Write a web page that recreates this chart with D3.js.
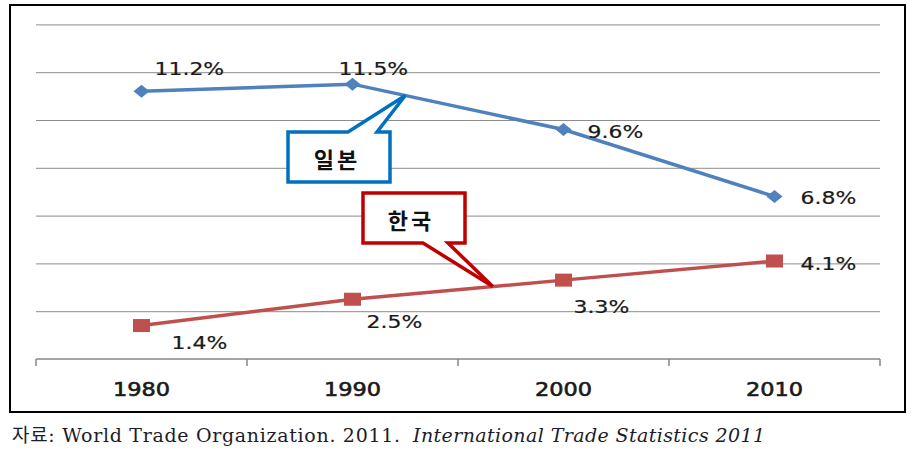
<!DOCTYPE html>
<html>
<head>
<meta charset="utf-8">
<script src="https://cdn.jsdelivr.net/npm/d3@7.9.0/dist/d3.min.js"></script>
<style>
  html, body { margin: 0; padding: 0; background: #fff; }
  svg { display: block; }
</style>
</head>
<body>
<div id="chart"></div>
<script>
// Data
const years = ['1980', '1990', '2000', '2010'];
const japan = [11.2, 11.5, 9.6, 6.8];
const korea = [1.4, 2.5, 3.3, 4.1];
const yTicks = [2, 4, 6, 8, 10, 12, 14];
const japanName = '일본';
const koreaName = '한국';
const sourceText = '자료: World Trade Organization. 2011.';
const sourceItalic = 'International Trade Statistics 2011';

// Label offsets (px) from each point: [dx, dy of baseline]
const japanLabelOff = [[13, -16], [-14, -9], [24, 8], [26, 8]];
const koreaLabelOff = [[30, 23], [14, 29], [10, 33], [26, 9]];

const width = 912, height = 454;
const plot = { left: 36, right: 880, top: 24.4, bottom: 359 };

const svg = d3.select('#chart').append('svg')
  .attr('width', width)
  .attr('height', height);

// Outer frame
svg.append('rect')
  .attr('x', 10).attr('y', 5)
  .attr('width', 895).attr('height', 407)
  .attr('fill', '#fff')
  .attr('stroke', '#000')
  .attr('stroke-width', 2);

const x = d3.scaleBand().domain(years).range([plot.left, plot.right]);
const y = d3.scaleLinear().domain([0, 14]).range([plot.bottom, plot.top]);
const cx = d => x(d) + x.bandwidth() / 2;

// Gridlines
svg.append('g')
  .attr('transform', `translate(${plot.left},0)`)
  .call(d3.axisLeft(y).tickValues(yTicks).tickFormat('').tickSize(-(plot.right - plot.left)))
  .call(g => g.select('.domain').remove())
  .call(g => g.selectAll('.tick line').attr('stroke', '#8c8c8c').attr('stroke-width', 1));

// X axis: line, ticks between categories, labels
const xAxis = svg.append('g').attr('transform', `translate(0,${plot.bottom})`);
xAxis.append('line')
  .attr('x1', plot.left).attr('x2', plot.right)
  .attr('stroke', '#868686').attr('stroke-width', 1.5);
xAxis.selectAll('line.tk')
  .data(years.map(d => x(d)).concat([plot.right]))
  .join('line')
  .attr('class', 'tk')
  .attr('x1', d => d).attr('x2', d => d)
  .attr('y1', 0).attr('y2', 7)
  .attr('stroke', '#868686').attr('stroke-width', 1.5);
xAxis.selectAll('text')
  .data(years)
  .join('text')
  .attr('transform', d => `translate(${cx(d)},37) scale(1.18,1)`)
  .attr('text-anchor', 'middle')
  .attr('font-family', 'DejaVu Sans')
  .attr('font-size', 19)
  .attr('fill', '#1a1a1a')
  .attr('stroke', '#1a1a1a')
  .attr('stroke-width', 0.6)
  .text(d => d);

// Lines
const line = d3.line().x((d, i) => cx(years[i])).y(d => y(d));

function series(values, color, marker, offsets) {
  const g = svg.append('g');
  g.append('path')
    .datum(values)
    .attr('d', line)
    .attr('fill', 'none')
    .attr('stroke', color)
    .attr('stroke-width', 3.5);
  if (marker === 'diamond') {
    g.selectAll('path.m')
      .data(values)
      .join('path')
      .attr('class', 'm')
      .attr('d', (d, i) => {
        const px = cx(years[i]), py = y(d);
        return `M${px - 8},${py} L${px},${py - 6.5} L${px + 8},${py} L${px},${py + 6.5} Z`;
      })
      .attr('fill', color);
  } else {
    g.selectAll('rect')
      .data(values)
      .join('rect')
      .attr('x', (d, i) => cx(years[i]) - 8.5)
      .attr('y', d => y(d) - 6.5)
      .attr('width', 17).attr('height', 13)
      .attr('fill', color);
  }
  g.selectAll('text')
    .data(values)
    .join('text')
    .attr('transform', (d, i) =>
      `translate(${cx(years[i]) + offsets[i][0]},${y(d) + offsets[i][1]}) scale(1.22,1)`)
    .attr('font-family', 'DejaVu Sans')
    .attr('font-size', 18)
    .attr('fill', '#1a1a1a')
    .attr('stroke', '#1a1a1a')
    .attr('stroke-width', 0.2)
    .text(d => d.toFixed(1) + '%');
}

series(japan, '#4f81bd', 'diamond', japanLabelOff);
series(korea, '#c0504d', 'square', koreaLabelOff);

// Callouts, tip anchored on the segment between 1990 and 2000
function pointOn(values, t) {
  const x0 = cx(years[1]), x1 = cx(years[2]);
  return [x0 + (x1 - x0) * t, y(values[1] + (values[2] - values[1]) * t)];
}

function callout(box, base, tip, color, label, textX, textY) {
  const [l, t, r, b] = box;
  svg.append('path')
    .attr('d', base.dir === 'top'
      ? `M${l},${t} L${base.a},${t} L${tip[0]},${tip[1]} L${base.b},${t} L${r},${t} L${r},${b} L${l},${b} Z`
      : `M${l},${t} L${r},${t} L${r},${b} L${base.b},${b} L${tip[0]},${tip[1]} L${base.a},${b} L${l},${b} Z`)
    .attr('fill', '#fff')
    .attr('stroke', color)
    .attr('stroke-width', 3.5)
    .attr('stroke-linejoin', 'miter');
  svg.append('text')
    .attr('x', textX).attr('y', textY)
    .attr('text-anchor', 'middle')
    .attr('font-family', 'Noto Sans CJK KR')
    .attr('font-weight', 'bold')
    .attr('font-size', 22)
    .attr('letter-spacing', 3)
    .attr('fill', '#111')
    .text(label);
}

callout([288, 132, 390, 182], { dir: 'top', a: 348, b: 377 }, pointOn(japan, 0.25),
  '#0070c0', japanName, 337, 168);
callout([363, 193, 465, 243], { dir: 'bottom', a: 423, b: 448 }, pointOn(korea, 0.665),
  '#c00000', koreaName, 411, 229);

// Source line
svg.append('text')
  .attr('x', 12).attr('y', 442)
  .attr('font-family', 'DejaVu Serif, Noto Sans CJK KR')
  .attr('font-size', 19)
  .attr('fill', '#1c1c2a')
  .attr('textLength', 388)
  .attr('lengthAdjust', 'spacing')
  .text(sourceText);
svg.append('text')
  .attr('x', 413).attr('y', 442)
  .attr('font-family', 'DejaVu Serif')
  .attr('font-style', 'italic')
  .attr('font-size', 19)
  .attr('fill', '#1c1c2a')
  .attr('textLength', 352)
  .attr('lengthAdjust', 'spacing')
  .text(sourceItalic);
</script>
</body>
</html>
